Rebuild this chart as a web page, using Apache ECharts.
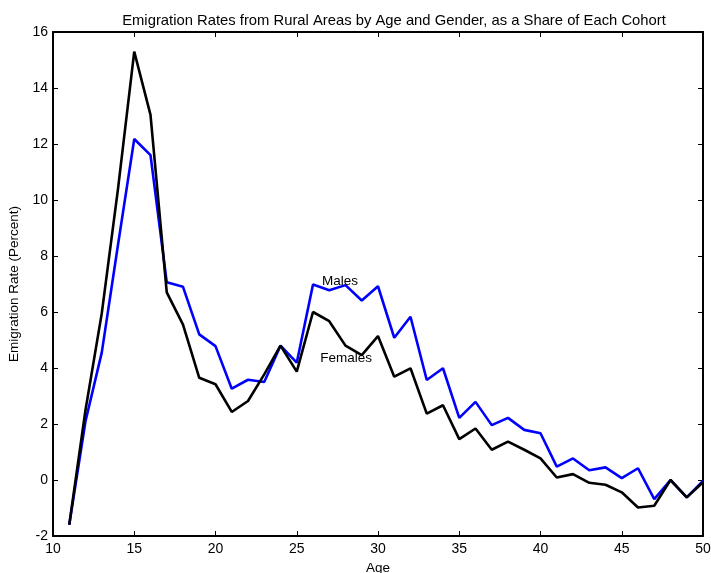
<!DOCTYPE html>
<html>
<head>
<meta charset="utf-8">
<script src="https://cdn.jsdelivr.net/npm/echarts@6/dist/echarts.min.js"></script>
<style>
html,body{margin:0;padding:0;background:#fff;}
#chart{width:711px;height:573px;}
</style>
</head>
<body>
<div id="chart"></div>
<script>
const ages = [11,12,13,14,15,16,17,18,19,20,21,22,23,24,25,26,27,28,29,30,31,32,33,34,35,36,37,38,39,40,41,42,43,44,45,46,47,48,49,50];
const males = [-1.6,2.1,4.55,8.4,12.18,11.6,7.06,6.9,5.2,4.78,3.26,3.58,3.5,4.8,4.19,6.98,6.78,6.96,6.41,6.92,5.08,5.83,3.57,3.99,2.22,2.79,1.96,2.22,1.79,1.67,0.48,0.77,0.35,0.45,0.07,0.42,-0.68,0.0,-0.62,-0.03];
const females = [-1.6,2.5,5.95,10.4,15.3,13.04,6.7,5.55,3.65,3.42,2.43,2.82,3.77,4.8,3.87,6.0,5.67,4.8,4.46,5.14,3.69,3.99,2.37,2.67,1.46,1.84,1.08,1.37,1.08,0.77,0.09,0.21,-0.1,-0.17,-0.44,-0.98,-0.92,0.0,-0.62,-0.08];
const seriesNames = ['Males','Females'];
const annotations = [['Males',26.55,7.1],['Females',26.45,4.35]];
const titleText = 'Emigration Rates from Rural Areas by Age and Gender, as a Share of Each Cohort';
const xName = 'Age';
const yName = 'Emigration Rate (Percent)';

const font = 'Liberation Sans, Arial, Helvetica, sans-serif';
const chart = echarts.init(document.getElementById('chart'));
const axisCommon = {
  axisLine:{show:true,onZero:false,lineStyle:{color:'#000',width:2}},
  axisTick:{show:true,inside:true,length:5,lineStyle:{color:'#000',width:1}},
  splitLine:{show:false}
};
const pair = (a) => ages.map((x,i)=>[x,a[i]]);
chart.setOption({
  animation:false,
  title:{text:titleText,left:389,textAlign:'center',top:8,textStyle:{fontFamily:font,fontSize:14.8,fontWeight:'normal',color:'#000'}},
  grid:{left:53,right:8,top:32,bottom:37,containLabel:false,outerBoundsMode:'none'},
  xAxis:[
    Object.assign({type:'value',min:10,max:50,interval:5,position:'bottom',name:xName,nameLocation:'middle',nameGap:24,
      nameTextStyle:{fontFamily:font,fontSize:13.5,color:'#000'},
      axisLabel:{fontFamily:font,fontSize:14,color:'#000',margin:6}},axisCommon),
    Object.assign({type:'value',min:10,max:50,interval:5,position:'top',axisLabel:{show:false}},axisCommon)
  ],
  yAxis:[
    Object.assign({type:'value',min:-2,max:16,interval:2,position:'left',name:yName,nameLocation:'middle',nameGap:26,
      nameTextStyle:{fontFamily:font,fontSize:13.5,color:'#000'},
      axisLabel:{fontFamily:font,fontSize:14,color:'#000',margin:5}},axisCommon),
    Object.assign({type:'value',min:-2,max:16,interval:2,position:'right',axisLabel:{show:false}},axisCommon)
  ],
  series:[
    {name:seriesNames[0],type:'line',data:pair(males),symbol:'none',lineStyle:{color:'#0000ff',width:2.6},z:2},
    {name:seriesNames[1],type:'line',data:pair(females),symbol:'none',lineStyle:{color:'#000000',width:2.6},z:3,
     markPoint:{symbol:'circle',symbolSize:0,
       label:{show:true,position:'right',distance:0,fontFamily:font,fontSize:13.5,color:'#000',formatter:p=>p.name},
       data:annotations.map(a=>({name:a[0],coord:[a[1],a[2]]}))}}
  ]
});
</script>
</body>
</html>
